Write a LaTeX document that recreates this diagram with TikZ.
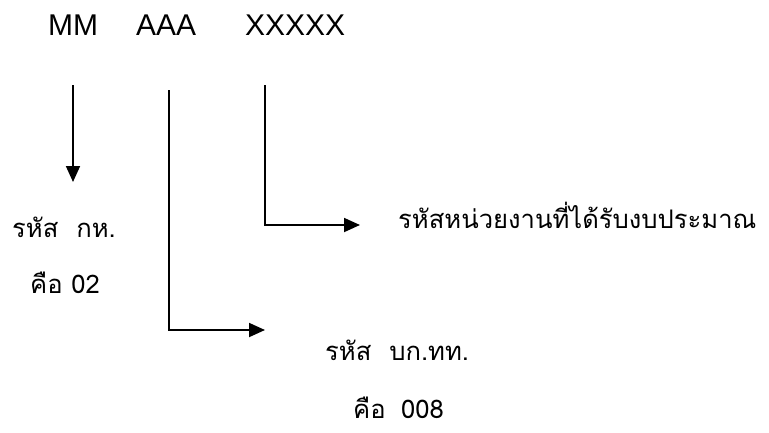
\documentclass[tikz,border=0pt]{standalone}
\usepackage{fontspec}
\setmainfont{Liberation Sans}
\newfontfamily\thaifont[Script=Thai]{Loma}
\usetikzlibrary{arrows.meta}
\begin{document}
\begin{tikzpicture}[x=1pt,y=-1pt,
        code/.style={font=\fontsize{30}{32}\selectfont,anchor=base west,inner sep=0pt},
        thai/.style={font=\thaifont\fontsize{25.6}{28}\selectfont,anchor=base west,inner sep=0pt},
        pointer/.style={line width=1.8pt,-{Triangle[length=16pt,width=14pt]}}]
        \useasboundingbox (0,0) rectangle (769,432);
        \def\ytop{85} % top of the pointers

        \node[code] (mm) at (48,35) {MM};
        \node[code] (aaa) at (136,35) {AAA};
        \node[code] (xxx) at (245,35) {XXXXX};

        \node[thai] (kh) at (12,237) {รหัส\hspace{0.7em}กห.};
        \node[thai] (kh code) at (30,293) {คือ 02};
        \node[thai] (unit) at (398,228) {รหัสหน่วยงานที่ได้รับงบประมาณ};
        \node[thai] (bk) at (325,360) {รหัส\hspace{0.7em}บก.ทท.};
        \node[thai] (bk code) at (353,418) {คือ\hspace{0.6em}008};

        \coordinate (mm top) at (73,\ytop);
        \coordinate (mm end) at (73,182);
        \coordinate (aaa top) at (169,\ytop+5);
        \coordinate (aaa end) at (265,330);
        \coordinate (xxx top) at (265,\ytop);
        \coordinate (xxx end) at (360,225);

        \draw[pointer] (mm top) -- (mm end);
        \draw[pointer] (aaa top) |- (aaa end);
        \draw[pointer] (xxx top) |- (xxx end);
\end{tikzpicture}
\end{document}
